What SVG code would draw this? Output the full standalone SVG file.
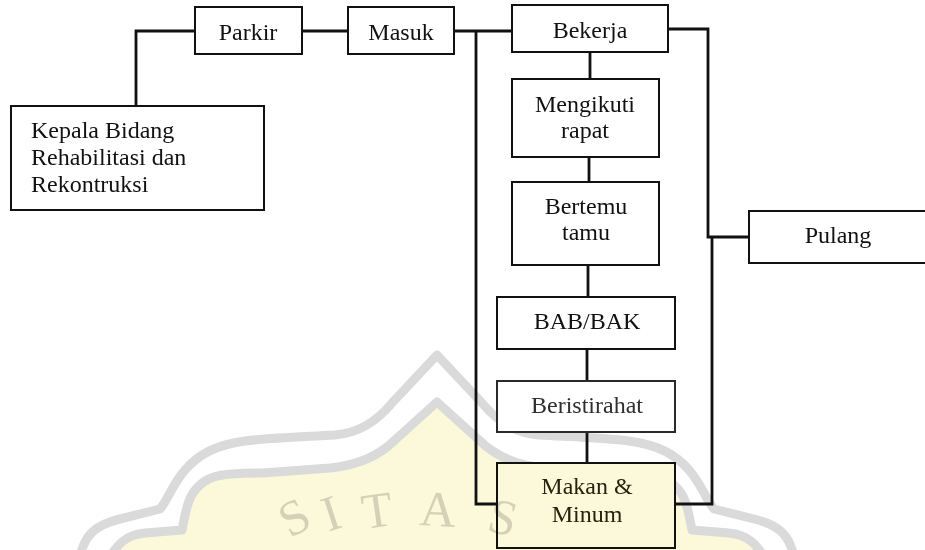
<svg xmlns="http://www.w3.org/2000/svg" width="925" height="550" viewBox="0 0 925 550">
  <style>
    .box { fill: #ffffff; stroke: #111111; stroke-width: 2; }
    .lbl { font-family: "Liberation Serif", "Times New Roman", Times, serif; font-size: 24px; fill: #111111; }
    .mid { text-anchor: middle; }
    .conn { fill: none; stroke: #111111; stroke-width: 2.8; stroke-linejoin: miter; }
    .band { fill: none; stroke: #dadada; stroke-width: 9; stroke-linejoin: round; }
    .wm { font-family: "Liberation Serif", "Times New Roman", Times, serif; font-size: 50px; fill: #d2d2d2; text-anchor: middle; }
  </style>
  <rect x="0" y="0" width="925" height="550" fill="#ffffff"/>

  <!-- watermark -->
  <g id="watermark">
    <path d="M 110,556 C 118,545 125,535 145,533 L 182,530 C 186,510 188,495 200,485 C 210,475 225,473 263,473 L 330,468 C 360,465 380,455 395,440 L 437,402 L 479,440 C 494,455 514,465 544,468 L 611,473 C 649,473 664,475 674,485 C 686,495 688,510 692,530 L 729,533 C 749,535 756,545 764,556 L 764,560 L 110,560 Z" fill="#fcf9da"/>
    <path class="band" d="M 80,556 C 85,535 95,525 120,519 L 160,509 C 168,500 172,485 185,470 C 198,455 215,445 245,441 C 270,438 300,437 335,435 C 360,433 378,420 392,403 L 437,355 L 482,403 C 496,420 514,433 539,435 C 574,437 604,438 629,441 C 659,445 676,455 689,470 C 702,485 706,500 714,509 L 754,519 C 779,525 789,535 794,556"/>
    <path class="band" d="M 110,556 C 118,545 125,535 145,533 L 182,530 C 186,510 188,495 200,485 C 210,475 225,473 263,473 L 330,468 C 360,465 380,455 395,440 L 437,402 L 479,440 C 494,455 514,465 544,468 L 611,473 C 649,473 664,475 674,485 C 686,495 688,510 692,530 L 729,533 C 749,535 756,545 764,556"/>
  </g>

  <!-- connectors -->
  <g id="connectors">
    <path class="conn" d="M 136,106 V 31 H 195"/>
    <path class="conn" d="M 302,31 H 348"/>
    <path class="conn" d="M 454,31 H 512"/>
    <path class="conn" d="M 476,31 V 504 H 497"/>
    <path class="conn" d="M 668,29 H 708 V 237 H 749"/>
    <path class="conn" d="M 712,237 V 504 H 675"/>
    <path class="conn" d="M 590,52 V 79"/>
    <path class="conn" d="M 589,157 V 182"/>
    <path class="conn" d="M 588,265 V 297"/>
    <path class="conn" d="M 587,349 V 381"/>
    <path class="conn" d="M 587,432 V 463"/>
  </g>

  <!-- nodes -->
  <g id="kepala">
    <rect class="box" x="11" y="106" width="253" height="104"/>
    <text class="lbl" x="31" y="138">Kepala Bidang</text>
    <text class="lbl" x="31" y="165">Rehabilitasi dan</text>
    <text class="lbl" x="31" y="192">Rekontruksi</text>
  </g>
  <g id="parkir">
    <rect class="box" x="195" y="7" width="107" height="47"/>
    <text class="lbl mid" x="248" y="40">Parkir</text>
  </g>
  <g id="masuk">
    <rect class="box" x="348" y="7" width="106" height="47"/>
    <text class="lbl mid" x="401" y="40">Masuk</text>
  </g>
  <g id="bekerja">
    <rect class="box" x="512" y="5" width="156" height="47"/>
    <text class="lbl mid" x="590" y="38">Bekerja</text>
  </g>
  <g id="mengikuti">
    <rect class="box" x="512" y="79" width="147" height="78"/>
    <text class="lbl mid" x="585" y="112">Mengikuti</text>
    <text class="lbl mid" x="585" y="138">rapat</text>
  </g>
  <g id="bertemu">
    <rect class="box" x="512" y="182" width="147" height="83"/>
    <text class="lbl mid" x="586" y="214">Bertemu</text>
    <text class="lbl mid" x="586" y="240">tamu</text>
  </g>
  <g id="babbak">
    <rect class="box" x="497" y="297" width="178" height="52"/>
    <text class="lbl mid" x="587" y="329">BAB/BAK</text>
  </g>
  <g id="beristirahat">
    <rect class="box" x="497" y="381" width="178" height="51" style="stroke:#2a2a2a"/>
    <text class="lbl mid" x="587" y="413" style="fill:#2e2e2e">Beristirahat</text>
  </g>
  <g id="makan">
    <rect class="box" x="497" y="463" width="178" height="85" style="fill:#fcf9da"/>
    <text class="lbl mid" x="587" y="494" style="fill:#25230f">Makan &amp;</text>
    <text class="lbl mid" x="587" y="522" style="fill:#25230f">Minum</text>
  </g>
  <g id="pulang">
    <rect class="box" x="749" y="211" width="190" height="52"/>
    <text class="lbl mid" x="838" y="243">Pulang</text>
  </g>

  <!-- watermark letters (overlay) -->
  <g id="watermark-letters" style="mix-blend-mode:multiply" opacity="0.9">
    <text class="wm" x="294" y="534" transform="rotate(-28 294 517)">S</text>
    <text class="wm" x="331" y="530" transform="rotate(-18 331 513)">I</text>
    <text class="wm" x="377" y="527" transform="rotate(-8 377 510)">T</text>
    <text class="wm" x="438" y="526" transform="rotate(3 438 509)">A</text>
    <text class="wm" x="503" y="534" transform="rotate(14 503 517)">S</text>
  </g>
</svg>
